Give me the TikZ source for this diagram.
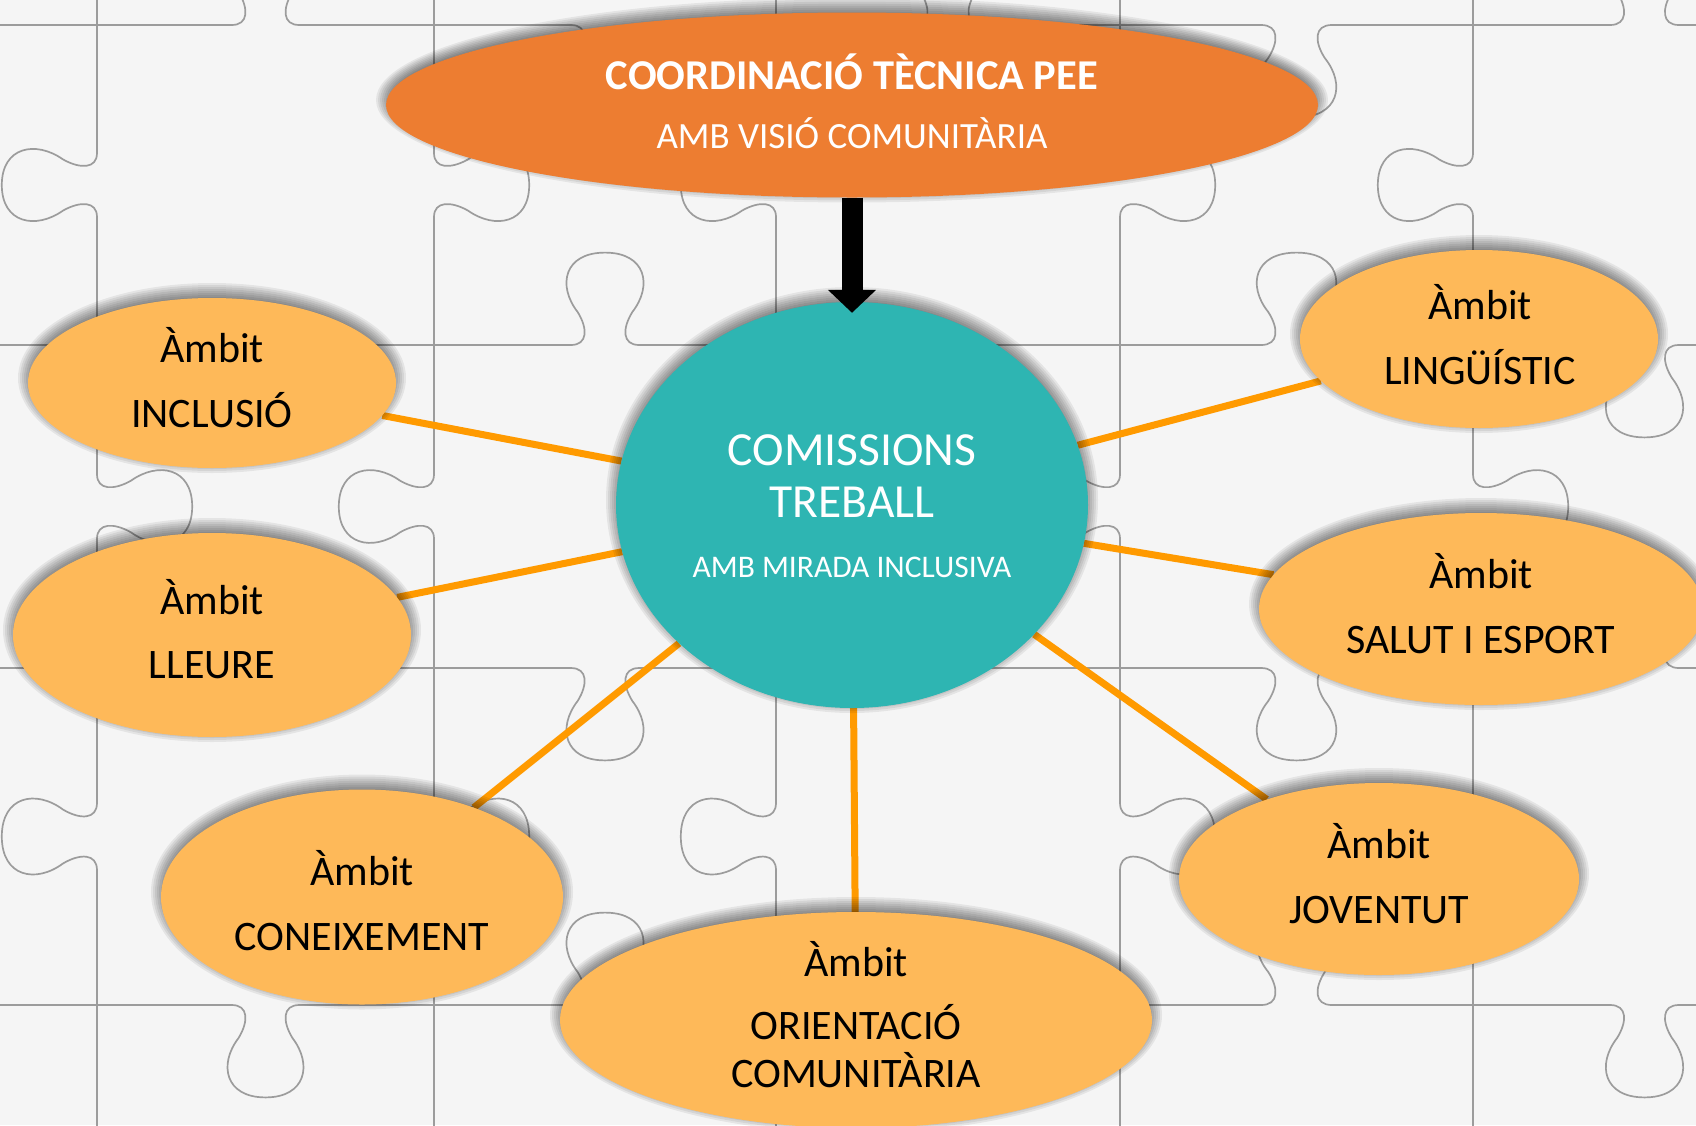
\documentclass[tikz,border=0pt]{standalone}
\usepackage{fontspec}
\setmainfont{Carlito}
\usetikzlibrary{shapes.geometric,arrows.meta}
\definecolor{bgc}{HTML}{F5F5F5}
\definecolor{topc}{HTML}{ED7D31}
\definecolor{cenc}{HTML}{2EB5B2}
\definecolor{ambc}{HTML}{FEB959}
\definecolor{linkc}{HTML}{FF9A00}
\definecolor{puzc}{HTML}{9C9C9C}
\pgfdeclarelayer{bg}
\pgfdeclarelayer{links}
\pgfsetlayers{bg,links,main}
\newcommand\jigpath{(0,0) -- (0.40,0) .. controls (0.45,0) and (0.45,0.05) .. (0.42,0.10) .. controls (0.36,0.18) and (0.38,0.28) .. (0.5,0.28) .. controls (0.62,0.28) and (0.64,0.18) .. (0.58,0.10) .. controls (0.55,0.05) and (0.55,0) .. (0.60,0) -- (1,0)}
\tikzset{
  ell/.style={ellipse, inner sep=0pt},
  lbl/.style={anchor=base, inner sep=0pt, font=\fontsize{42}{50}\selectfont, text=black},
  wlbl/.style={anchor=base, inner sep=0pt, text=white},
  link/.style={linkc, line width=7pt},
  puz/.style={puzc, line width=1.7pt, line join=round, line cap=round},
  shad/.style={black, opacity=0.065},
}
% name, x, y, width, height, fill colour
\newcommand\shadnode[6]{%
  \foreach \k in {0,...,9} {\fill[shad] (#2,#3-5) ellipse ({#4/2-8+2*\k} and {#5/2-8+2*\k});}
  \node[ell, fill=#6, minimum width=#4pt, minimum height=#5pt] (#1) at (#2,#3) {};
}
\begin{document}
\begin{tikzpicture}[x=1pt,y=-1pt]
\useasboundingbox (0,0) rectangle (1696,1125);
\begin{pgfonlayer}{bg}
\fill[bgc] (0,0) rectangle (1696,1125);
\begin{scope}
\clip (0,0) rectangle (1696,1125);
\foreach \ya [count=\j] in {25,345,668,1005} {
  \foreach \xa/\xb [count=\i] in {-246/97,97/434,434/776,776/1120,1120/1473,1473/1816} {
    \pgfmathsetmacro\dd{mod(\i+\j,2)==0 ? 330 : -330}
    \begin{scope}[shift={(\xa,\ya)}, xscale={\xb-(\xa)}, yscale=\dd]
      \draw[puz] \jigpath;
    \end{scope}
  }
}
\foreach \xa [count=\i] in {97,434,776,1120,1473} {
  \foreach \ya/\yb [count=\j] in {-300/25,25/345,345/668,668/1005,1005/1330} {
    \pgfmathsetmacro\dd{mod(\i+\j,2)==0 ? -340 : 340}
    \begin{scope}[shift={(\xa,\ya)}, rotate=-90, xscale={\yb-(\ya)}, yscale=\dd]
      \draw[puz] \jigpath;
    \end{scope}
  }
}
\end{scope}
\end{pgfonlayer}

% nodes
\shadnode{top}{852}{105}{932}{185}{topc}
\shadnode{cen}{852}{505}{472}{406}{cenc}
\shadnode{inc}{212}{383}{368}{170}{ambc}
\shadnode{lle}{212}{635}{398}{204}{ambc}
\shadnode{con}{362}{897}{402}{215}{ambc}
\shadnode{ori}{856}{1020}{592}{216}{ambc}
\shadnode{jov}{1379}{879}{400}{192}{ambc}
\shadnode{sal}{1481}{609}{444}{192}{ambc}
\shadnode{lin}{1479}{339}{358}{178}{ambc}

% connectors
\begin{pgfonlayer}{links}
\foreach \n in {inc,lle,con,ori,jov,sal,lin} \draw[link] (cen) -- (\n);
\end{pgfonlayer}
\draw[line width=21pt, -{Triangle[width=47pt,length=23pt]}, shorten >=-11pt] (top) -- (cen);

% texts
\node[wlbl, font=\fontsize{42.5}{50}\selectfont\bfseries] (top1) at (852,89) {COORDINACIÓ TÈCNICA PEE};
\node[wlbl, font=\fontsize{37}{44}\selectfont] (top2) at (852,148) {AMB VISIÓ COMUNITÀRIA};
\node[wlbl, font=\fontsize{47.5}{52}\selectfont] (cen1) at (852,465) {COMISSIONS};
\node[wlbl, font=\fontsize{47.5}{52}\selectfont] (cen2) at (852,517) {TREBALL};
\node[wlbl, font=\fontsize{31.5}{36}\selectfont] (cen3) at (852,577) {AMB MIRADA INCLUSIVA};

\node[lbl] (inc1) at (212,362.7) {Àmbit};
\node[lbl] (inc2) at (212,427.3) {INCLUSIÓ};
\node[lbl] (lle1) at (212,614) {Àmbit};
\node[lbl] (lle2) at (212,678) {LLEURE};
\node[lbl] (con1) at (362,885) {Àmbit};
\node[lbl] (con2) at (362,950) {CONEIXEMENT};
\node[lbl] (ori1) at (856,976) {Àmbit};
\node[lbl] (ori2) at (856,1039) {ORIENTACIÓ};
\node[lbl] (ori3) at (856,1087) {COMUNITÀRIA};
\node[lbl] (jov1) at (1379,858) {Àmbit};
\node[lbl] (jov2) at (1379,923) {JOVENTUT};
\node[lbl] (sal1) at (1481,588) {Àmbit};
\node[lbl] (sal2) at (1481,653) {SALUT I ESPORT};
\node[lbl] (lin1) at (1480,319) {Àmbit};
\node[lbl] (lin2) at (1480,384) {LINGÜÍSTIC};
\end{tikzpicture}
\end{document}
